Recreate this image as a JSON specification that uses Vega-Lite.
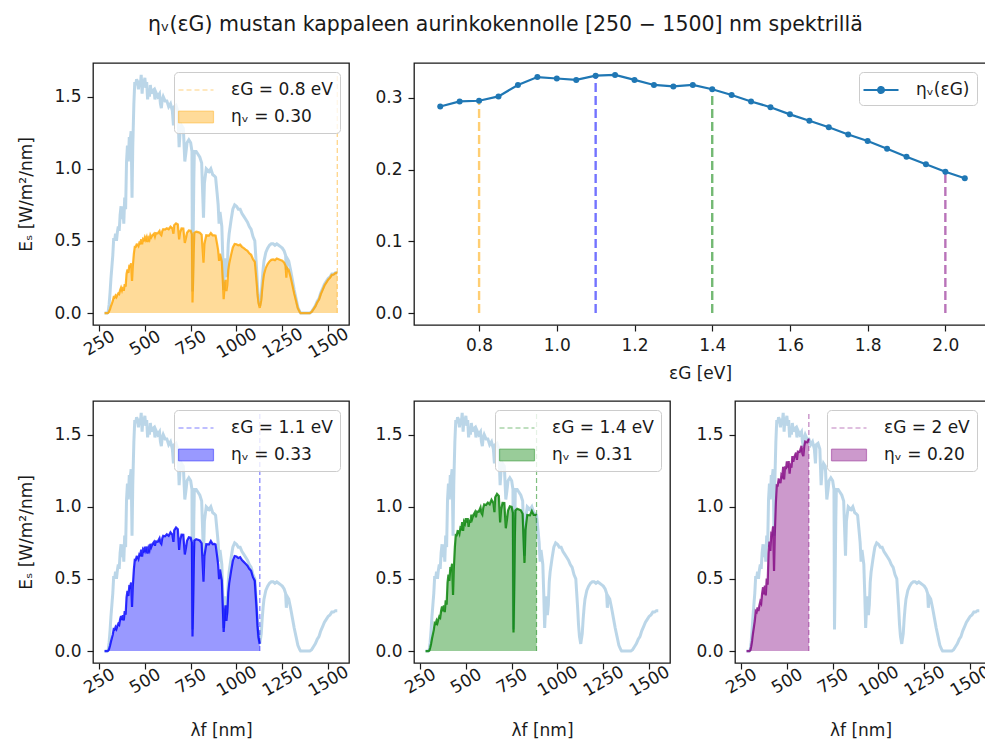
{
 "$schema": "https://vega.github.io/schema/vega-lite/v6.json",
 "padding": {"left": 17, "top": 14, "right": 0, "bottom": 0},
 "title": {"text": "ηᵥ(εG) mustan kappaleen aurinkokennolle [250 − 1500] nm spektrillä", "anchor": "middle", "frame": "bounds", "offset": 27, "fontSize": 20.5, "font": "DejaVu Sans", "fontWeight": "normal", "color": "#1a1a1a"},
 "resolve": {"scale": {"strokeDash": "independent", "color": "independent"}, "legend": {"strokeDash": "independent", "color": "independent"}},
 "datasets": {
  "spec": [
   {"l":280,"e":0,"a":0,"b":0,"c":0,"d":0},
   {"l":295,"e":0,"a":0,"b":0,"c":0,"d":0},
   {"l":300,"e":0.01,"a":0.002,"b":0.003,"c":0.003,"d":0.005},
   {"l":305,"e":0.06,"a":0.012,"b":0.016,"c":0.021,"d":0.03},
   {"l":310,"e":0.14,"a":0.028,"b":0.039,"c":0.049,"d":0.07},
   {"l":315,"e":0.24,"a":0.049,"b":0.067,"c":0.085,"d":0.122},
   {"l":320,"e":0.32,"a":0.066,"b":0.091,"c":0.116,"d":0.165},
   {"l":325,"e":0.4,"a":0.084,"b":0.115,"c":0.147,"d":0.21},
   {"l":330,"e":0.52,"a":0.111,"b":0.152,"c":0.194,"d":0.277},
   {"l":335,"e":0.5,"a":0.108,"b":0.149,"c":0.189,"d":0.27},
   {"l":340,"e":0.55,"a":0.121,"b":0.166,"c":0.211,"d":0.302},
   {"l":345,"e":0.5,"a":0.111,"b":0.153,"c":0.195,"d":0.278},
   {"l":350,"e":0.56,"a":0.126,"b":0.174,"c":0.221,"d":0.316},
   {"l":355,"e":0.6,"a":0.137,"b":0.189,"c":0.24,"d":0.344},
   {"l":360,"e":0.57,"a":0.132,"b":0.182,"c":0.232,"d":0.331},
   {"l":365,"e":0.68,"a":0.16,"b":0.22,"c":0.28,"d":0.4},
   {"l":370,"e":0.74,"a":0.177,"b":0.243,"c":0.309,"d":0.442},
   {"l":375,"e":0.65,"a":0.157,"b":0.216,"c":0.275,"d":0.393},
   {"l":380,"e":0.74,"a":0.181,"b":0.249,"c":0.317,"d":0.454},
   {"l":385,"e":0.62,"a":0.154,"b":0.212,"c":0.27,"d":0.385},
   {"l":390,"e":0.8,"a":0.201,"b":0.277,"c":0.352,"d":0.503},
   {"l":395,"e":0.72,"a":0.183,"b":0.252,"c":0.321,"d":0.459},
   {"l":400,"e":1.05,"a":0.271,"b":0.373,"c":0.474,"d":0.677},
   {"l":405,"e":1.16,"a":0.303,"b":0.417,"c":0.53,"d":0.758},
   {"l":410,"e":1.05,"a":0.278,"b":0.382,"c":0.486,"d":0.694},
   {"l":415,"e":1.22,"a":0.327,"b":0.449,"c":0.572,"d":0.817},
   {"l":420,"e":1.2,"a":0.325,"b":0.447,"c":0.569,"d":0.813},
   {"l":425,"e":1.26,"a":0.345,"b":0.475,"c":0.605,"d":0.864},
   {"l":430,"e":0.8,"a":0.222,"b":0.305,"c":0.388,"d":0.555},
   {"l":434,"e":1.15,"a":0.322,"b":0.443,"c":0.564,"d":0.805},
   {"l":440,"e":1.45,"a":0.412,"b":0.566,"c":0.72,"d":1.029},
   {"l":445,"e":1.6,"a":0.459,"b":0.632,"c":0.804,"d":1.148},
   {"l":450,"e":1.58,"a":0.459,"b":0.631,"c":0.803,"d":1.147},
   {"l":455,"e":1.62,"a":0.476,"b":0.654,"c":0.832,"d":1.189},
   {"l":460,"e":1.6,"a":0.475,"b":0.653,"c":0.831,"d":1.187},
   {"l":465,"e":1.55,"a":0.465,"b":0.639,"c":0.814,"d":1.163},
   {"l":470,"e":1.61,"a":0.488,"b":0.671,"c":0.854,"d":1.22},
   {"l":475,"e":1.58,"a":0.484,"b":0.666,"c":0.847,"d":1.21},
   {"l":480,"e":1.65,"a":0.511,"b":0.703,"c":0.894,"d":1.277},
   {"l":485,"e":1.52,"a":0.476,"b":0.654,"c":0.832,"d":1.189},
   {"l":490,"e":1.62,"a":0.512,"b":0.704,"c":0.896,"d":1.28},
   {"l":495,"e":1.58,"a":0.505,"b":0.694,"c":0.883,"d":1.261},
   {"l":500,"e":1.63,"a":0.526,"b":0.723,"c":0.92,"d":1.315},
   {"l":505,"e":1.56,"a":0.508,"b":0.699,"c":0.89,"d":1.271},
   {"l":510,"e":1.6,"a":0.526,"b":0.724,"c":0.921,"d":1.316},
   {"l":515,"e":1.48,"a":0.492,"b":0.676,"c":0.861,"d":1.229},
   {"l":520,"e":1.55,"a":0.52,"b":0.715,"c":0.91,"d":1.3},
   {"l":525,"e":1.5,"a":0.508,"b":0.699,"c":0.889,"d":1.27},
   {"l":530,"e":1.58,"a":0.54,"b":0.743,"c":0.945,"d":1.351},
   {"l":535,"e":1.52,"a":0.525,"b":0.721,"c":0.918,"d":1.312},
   {"l":540,"e":1.54,"a":0.537,"b":0.738,"c":0.939,"d":1.341},
   {"l":550,"e":1.55,"a":0.55,"b":0.756,"c":0.963,"d":1.375},
   {"l":555,"e":1.48,"a":0.53,"b":0.729,"c":0.927,"d":1.325},
   {"l":560,"e":1.53,"a":0.553,"b":0.76,"c":0.967,"d":1.382},
   {"l":570,"e":1.5,"a":0.552,"b":0.758,"c":0.965,"d":1.379},
   {"l":580,"e":1.52,"a":0.569,"b":0.782,"c":0.995,"d":1.422},
   {"l":585,"e":1.45,"a":0.547,"b":0.752,"c":0.958,"d":1.368},
   {"l":590,"e":1.42,"a":0.54,"b":0.743,"c":0.946,"d":1.351},
   {"l":595,"e":1.48,"a":0.568,"b":0.781,"c":0.994,"d":1.42},
   {"l":600,"e":1.5,"a":0.581,"b":0.798,"c":1.016,"d":1.452},
   {"l":610,"e":1.47,"a":0.579,"b":0.795,"c":1.012,"d":1.446},
   {"l":620,"e":1.47,"a":0.588,"b":0.809,"c":1.029,"d":1.47},
   {"l":630,"e":1.43,"a":0.581,"b":0.799,"c":1.017},
   {"l":640,"e":1.45,"a":0.599,"b":0.823,"c":1.048},
   {"l":650,"e":1.4,"a":0.587,"b":0.807,"c":1.027},
   {"l":656,"e":1.3,"a":0.55,"b":0.756,"c":0.963},
   {"l":660,"e":1.43,"a":0.609,"b":0.837,"c":1.066},
   {"l":670,"e":1.44,"a":0.622,"b":0.856,"c":1.089},
   {"l":680,"e":1.4,"a":0.614,"b":0.844,"c":1.075},
   {"l":687,"e":1.15,"a":0.51,"b":0.701,"c":0.892},
   {"l":692,"e":1.25,"a":0.558,"b":0.767,"c":0.977},
   {"l":700,"e":1.3,"a":0.587,"b":0.807,"c":1.027},
   {"l":710,"e":1.28,"a":0.586,"b":0.806,"c":1.026},
   {"l":718,"e":1.05,"a":0.486,"b":0.669,"c":0.851},
   {"l":725,"e":1.12,"a":0.524,"b":0.72,"c":0.917},
   {"l":730,"e":1.18,"a":0.556,"b":0.764,"c":0.973},
   {"l":740,"e":1.2,"a":0.573,"b":0.788,"c":1.003},
   {"l":750,"e":1.18,"a":0.571,"b":0.785,"c":0.999},
   {"l":757,"e":1.12,"a":0.547,"b":0.752,"c":0.957},
   {"l":760,"e":0.15,"a":0.074,"b":0.101,"c":0.129},
   {"l":763,"e":0.45,"a":0.222,"b":0.305,"c":0.388},
   {"l":767,"e":0.9,"a":0.445,"b":0.612,"c":0.779},
   {"l":770,"e":1.12,"a":0.556,"b":0.765,"c":0.974},
   {"l":780,"e":1.12,"a":0.564,"b":0.775,"c":0.986},
   {"l":790,"e":1.1,"a":0.561,"b":0.771,"c":0.981},
   {"l":800,"e":1.08,"a":0.557,"b":0.766,"c":0.975},
   {"l":810,"e":1.04,"a":0.543,"b":0.747,"c":0.951},
   {"l":815,"e":0.85,"a":0.447,"b":0.615,"c":0.782},
   {"l":820,"e":0.66,"a":0.349,"b":0.48,"c":0.611},
   {"l":825,"e":0.9,"a":0.479,"b":0.659,"c":0.838},
   {"l":835,"e":1.0,"a":0.539,"b":0.741,"c":0.943},
   {"l":850,"e":0.98,"a":0.537,"b":0.739,"c":0.941},
   {"l":860,"e":1.0,"a":0.555,"b":0.763,"c":0.971},
   {"l":870,"e":0.96,"a":0.539,"b":0.741,"c":0.943},
   {"l":880,"e":0.95,"a":0.539,"b":0.742,"c":0.944},
   {"l":886,"e":0.94,"a":0.537,"b":0.739,"c":0.94},
   {"l":895,"e":0.82,"a":0.473,"b":0.651},
   {"l":900,"e":0.75,"a":0.435,"b":0.599},
   {"l":905,"e":0.62,"a":0.362,"b":0.498},
   {"l":910,"e":0.7,"a":0.411,"b":0.565},
   {"l":920,"e":0.6,"a":0.356,"b":0.49},
   {"l":925,"e":0.4,"a":0.239,"b":0.328},
   {"l":930,"e":0.16,"a":0.096,"b":0.132},
   {"l":935,"e":0.3,"a":0.181,"b":0.249},
   {"l":940,"e":0.38,"a":0.23,"b":0.317},
   {"l":945,"e":0.25,"a":0.152,"b":0.21},
   {"l":950,"e":0.32,"a":0.196,"b":0.27},
   {"l":955,"e":0.48,"a":0.296,"b":0.407},
   {"l":960,"e":0.55,"a":0.341,"b":0.468},
   {"l":970,"e":0.64,"a":0.401,"b":0.551},
   {"l":980,"e":0.72,"a":0.455,"b":0.626},
   {"l":990,"e":0.75,"a":0.479,"b":0.659},
   {"l":1000,"e":0.74,"a":0.477,"b":0.656},
   {"l":1010,"e":0.72,"a":0.469,"b":0.645},
   {"l":1020,"e":0.72,"a":0.474,"b":0.651},
   {"l":1030,"e":0.69,"a":0.459,"b":0.63},
   {"l":1040,"e":0.67,"a":0.45,"b":0.618},
   {"l":1050,"e":0.65,"a":0.44,"b":0.605},
   {"l":1060,"e":0.63,"a":0.431,"b":0.592},
   {"l":1070,"e":0.6,"a":0.414,"b":0.57},
   {"l":1080,"e":0.58,"a":0.404,"b":0.556},
   {"l":1090,"e":0.53,"a":0.373,"b":0.512},
   {"l":1100,"e":0.5,"a":0.355,"b":0.488},
   {"l":1105,"e":0.4,"a":0.285,"b":0.392},
   {"l":1110,"e":0.3,"a":0.215,"b":0.295},
   {"l":1115,"e":0.18,"a":0.129,"b":0.178},
   {"l":1120,"e":0.1,"a":0.072,"b":0.099},
   {"l":1127,"e":0.05,"a":0.036,"b":0.05},
   {"l":1135,"e":0.12,"a":0.088},
   {"l":1140,"e":0.22,"a":0.162},
   {"l":1145,"e":0.3,"a":0.222},
   {"l":1150,"e":0.36,"a":0.267},
   {"l":1160,"e":0.42,"a":0.314},
   {"l":1170,"e":0.45,"a":0.34},
   {"l":1180,"e":0.47,"a":0.358},
   {"l":1190,"e":0.48,"a":0.369},
   {"l":1200,"e":0.48,"a":0.372},
   {"l":1210,"e":0.47,"a":0.367},
   {"l":1220,"e":0.48,"a":0.378},
   {"l":1230,"e":0.47,"a":0.373},
   {"l":1240,"e":0.46,"a":0.368},
   {"l":1250,"e":0.45,"a":0.363},
   {"l":1260,"e":0.43,"a":0.35},
   {"l":1268,"e":0.4,"a":0.327},
   {"l":1272,"e":0.3,"a":0.246},
   {"l":1276,"e":0.38,"a":0.313},
   {"l":1285,"e":0.36,"a":0.298},
   {"l":1295,"e":0.3,"a":0.251},
   {"l":1305,"e":0.23,"a":0.194},
   {"l":1315,"e":0.16,"a":0.136},
   {"l":1325,"e":0.1,"a":0.085},
   {"l":1335,"e":0.04,"a":0.034},
   {"l":1345,"e":0.01,"a":0.009},
   {"l":1350,"e":0,"a":0},
   {"l":1380,"e":0,"a":0},
   {"l":1400,"e":0,"a":0},
   {"l":1410,"e":0.01,"a":0.009},
   {"l":1420,"e":0.03,"a":0.027},
   {"l":1430,"e":0.05,"a":0.046},
   {"l":1440,"e":0.08,"a":0.074},
   {"l":1450,"e":0.1,"a":0.094},
   {"l":1460,"e":0.14,"a":0.132},
   {"l":1470,"e":0.17,"a":0.161},
   {"l":1480,"e":0.2,"a":0.191},
   {"l":1490,"e":0.22,"a":0.211},
   {"l":1500,"e":0.24,"a":0.232},
   {"l":1510,"e":0.25,"a":0.244},
   {"l":1520,"e":0.27,"a":0.265},
   {"l":1530,"e":0.27,"a":0.267},
   {"l":1540,"e":0.28,"a":0.278},
   {"l":1550,"e":0.28,"a":0.28}
  ],
  "eta": [
   {"eg":0.70,"eta":0.288},{"eg":0.75,"eta":0.295},{"eg":0.80,"eta":0.296},{"eg":0.85,"eta":0.302},
   {"eg":0.90,"eta":0.318},{"eg":0.95,"eta":0.329},{"eg":1.00,"eta":0.327},{"eg":1.05,"eta":0.325},
   {"eg":1.10,"eta":0.331},{"eg":1.15,"eta":0.332},{"eg":1.20,"eta":0.325},{"eg":1.25,"eta":0.318},
   {"eg":1.30,"eta":0.316},{"eg":1.35,"eta":0.318},{"eg":1.40,"eta":0.312},{"eg":1.45,"eta":0.304},
   {"eg":1.50,"eta":0.295},{"eg":1.55,"eta":0.287},{"eg":1.60,"eta":0.277},{"eg":1.65,"eta":0.268},
   {"eg":1.70,"eta":0.259},{"eg":1.75,"eta":0.249},{"eg":1.80,"eta":0.240},{"eg":1.85,"eta":0.229},
   {"eg":1.90,"eta":0.218},{"eg":1.95,"eta":0.2075},{"eg":2.00,"eta":0.197},{"eg":2.05,"eta":0.188}
  ]
 },
 "spacing": 18,
 "vconcat": [
  {
   "resolve": {"scale": {"strokeDash": "independent", "color": "independent"}, "legend": {"strokeDash": "independent", "color": "independent"}},
   "hconcat": [
    {
     "width": 256, "height": 262,
     "layer": [
      {"data": {"name": "spec"}, "mark": {"type": "line", "color": "#1f77b4", "opacity": 0.3, "strokeWidth": 3},
       "encoding": {
        "x": {"field": "l", "type": "quantitative", "scale": {"domain": [217, 1614], "nice": false, "zero": false},
              "axis": {"values": [250, 500, 750, 1000, 1250, 1500], "format": "d", "title": null, "labelAngle": -30, "labelAlign": "center", "labelBaseline": "middle", "labelPadding": 12}},
        "y": {"field": "e", "type": "quantitative", "scale": {"domain": [-0.0825, 1.7325], "nice": false, "zero": false},
              "axis": {"values": [0, 0.5, 1, 1.5], "format": ".1f", "title": "Eₛ [W/m²/nm]", "titlePadding": 18}}}},
      {"data": {"name": "spec"}, "mark": {"type": "area", "color": "orange", "opacity": 0.4},
       "encoding": {"x": {"field": "l", "type": "quantitative"}, "y": {"field": "a", "type": "quantitative"}}},
      {"data": {"name": "spec"}, "mark": {"type": "line", "color": "orange", "opacity": 0.8, "strokeWidth": 2.2},
       "encoding": {"x": {"field": "l", "type": "quantitative"}, "y": {"field": "a", "type": "quantitative"}}},
      {"data": {"values": [{"lg": 1550, "bot": 0, "top": 1.65, "s": "εG = 0.8 eV"}]}, "mark": {"type": "rule", "color": "orange", "opacity": 0.5, "strokeWidth": 1.2},
       "encoding": {"x": {"field": "lg", "type": "quantitative"}, "y": {"field": "bot", "type": "quantitative"}, "y2": {"field": "top"},
        "strokeDash": {"field": "s", "type": "nominal", "scale": {"domain": ["εG = 0.8 eV", "ηᵥ = 0.30"], "range": [[5, 3], [1, 0]]},
         "legend": {"orient": "top-right", "title": null, "offset": 9, "padding": 7, "fillColor": "rgba(255,255,255,0.8)", "strokeColor": "#cccccc", "cornerRadius": 4, "labelOffset": 24, "symbolOffset": 4, "rowPadding": 8, "symbolSize": 400, "symbolType": "stroke",
          "encoding": {"symbols": {"shape": {"value": {"expr": "datum.index === 0 ? 'M-1.75,0H1.75' : 'M-1.75,-0.6H1.75V0.6H-1.75Z'"}}, "fill": {"value": {"expr": "datum.index === 0 ? 'transparent' : 'rgba(255,165,0,0.4)'"}}, "stroke": {"value": {"expr": "datum.index === 0 ? 'rgba(255,165,0,0.5)' : 'rgba(255,165,0,0.4)'"}}, "strokeWidth": {"value": 1.2}, "opacity": {"value": 1}}}}}}}
     ]
    },
    {
     "width": 572, "height": 262,
     "layer": [
      {"data": {"values": [{"eg": 0.8, "z": 0, "eta": 0.296, "k": "o"}, {"eg": 1.1, "z": 0, "eta": 0.331, "k": "b"}, {"eg": 1.4, "z": 0, "eta": 0.312, "k": "g"}, {"eg": 2.0, "z": 0, "eta": 0.197, "k": "p"}]},
       "mark": {"type": "rule", "strokeWidth": 2.4, "opacity": 0.55, "strokeDash": [9, 4]},
       "encoding": {
        "x": {"field": "eg", "type": "quantitative", "scale": {"domain": [0.6325, 2.1046], "nice": false, "zero": false},
              "axis": {"values": [0.8, 1.0, 1.2, 1.4, 1.6, 1.8, 2.0], "format": ".1f", "title": "εG [eV]", "titlePadding": 12}},
        "y": {"field": "z", "type": "quantitative", "scale": {"domain": [-0.0166, 0.3486], "nice": false, "zero": false},
              "axis": {"values": [0, 0.1, 0.2, 0.3], "format": ".1f", "title": null}},
        "y2": {"field": "eta"},
        "color": {"field": "k", "type": "nominal", "scale": {"domain": ["o", "b", "g", "p"], "range": ["orange", "blue", "green", "purple"]}, "legend": null}}},
      {"data": {"name": "eta"}, "mark": {"type": "line", "color": "#1f77b4", "strokeWidth": 2.2, "point": {"filled": true, "size": 36, "color": "#1f77b4"}},
       "encoding": {
        "x": {"field": "eg", "type": "quantitative"},
        "y": {"field": "eta", "type": "quantitative"}}},
      {"data": {"values": [{"eg": 2.0, "eta": 0.197, "s": "ηᵥ(εG)"}]}, "mark": {"type": "point", "opacity": 0},
       "encoding": {
        "x": {"field": "eg", "type": "quantitative"},
        "y": {"field": "eta", "type": "quantitative"},
        "strokeDash": {"field": "s", "type": "nominal", "scale": {"domain": ["ηᵥ(εG)"], "range": [[1, 0]]},
         "legend": {"orient": "top-right", "title": null, "offset": 9, "padding": 7, "fillColor": "rgba(255,255,255,0.8)", "strokeColor": "#cccccc", "cornerRadius": 4, "labelOffset": 24, "symbolOffset": 4, "symbolSize": 400, "symbolType": "stroke",
          "encoding": {"symbols": {"shape": {"value": "M-1.75,0H1.75M-0.3,0A0.3,0.3,0,1,1,0.3,0A0.3,0.3,0,1,1,-0.3,0Z"}, "fill": {"value": "#1f77b4"}, "stroke": {"value": "#1f77b4"}, "strokeWidth": {"value": 2}, "opacity": {"value": 1}}}}}}}
     ]
    }
   ],
   "spacing": 65, "bounds": "flush"
  },
  {
   "resolve": {"scale": {"strokeDash": "independent", "color": "independent"}, "legend": {"strokeDash": "independent", "color": "independent"}},
   "hconcat": [
    {
     "width": 256, "height": 262,
     "layer": [
      {"data": {"name": "spec"}, "mark": {"type": "line", "color": "#1f77b4", "opacity": 0.3, "strokeWidth": 3},
       "encoding": {
        "x": {"field": "l", "type": "quantitative", "scale": {"domain": [217, 1614], "nice": false, "zero": false},
              "axis": {"values": [250, 500, 750, 1000, 1250, 1500], "format": "d", "title": "λf [nm]", "titlePadding": 24, "labelAngle": -30, "labelAlign": "center", "labelBaseline": "middle", "labelPadding": 12}},
        "y": {"field": "e", "type": "quantitative", "scale": {"domain": [-0.0825, 1.7325], "nice": false, "zero": false},
              "axis": {"values": [0, 0.5, 1, 1.5], "format": ".1f", "title": "Eₛ [W/m²/nm]", "titlePadding": 18}}}},
      {"data": {"name": "spec"}, "mark": {"type": "area", "color": "blue", "opacity": 0.4},
       "encoding": {"x": {"field": "l", "type": "quantitative"}, "y": {"field": "b", "type": "quantitative"}}},
      {"data": {"name": "spec"}, "mark": {"type": "line", "color": "blue", "opacity": 0.8, "strokeWidth": 2.2},
       "encoding": {"x": {"field": "l", "type": "quantitative"}, "y": {"field": "b", "type": "quantitative"}}},
      {"data": {"values": [{"lg": 1127.3, "bot": 0, "top": 1.65, "s": "εG = 1.1 eV"}]}, "mark": {"type": "rule", "color": "blue", "opacity": 0.5, "strokeWidth": 1.2},
       "encoding": {"x": {"field": "lg", "type": "quantitative"}, "y": {"field": "bot", "type": "quantitative"}, "y2": {"field": "top"},
        "strokeDash": {"field": "s", "type": "nominal", "scale": {"domain": ["εG = 1.1 eV", "ηᵥ = 0.33"], "range": [[5, 3], [1, 0]]},
         "legend": {"orient": "top-right", "title": null, "offset": 9, "padding": 7, "fillColor": "rgba(255,255,255,0.8)", "strokeColor": "#cccccc", "cornerRadius": 4, "labelOffset": 24, "symbolOffset": 4, "rowPadding": 8, "symbolSize": 400, "symbolType": "stroke",
          "encoding": {"symbols": {"shape": {"value": {"expr": "datum.index === 0 ? 'M-1.75,0H1.75' : 'M-1.75,-0.6H1.75V0.6H-1.75Z'"}}, "fill": {"value": {"expr": "datum.index === 0 ? 'transparent' : 'rgba(0,0,255,0.4)'"}}, "stroke": {"value": {"expr": "datum.index === 0 ? 'rgba(0,0,255,0.5)' : 'rgba(0,0,255,0.4)'"}}, "strokeWidth": {"value": 1.2}, "opacity": {"value": 1}}}}}}}
     ]
    },
    {
     "width": 256, "height": 262,
     "layer": [
      {"data": {"name": "spec"}, "mark": {"type": "line", "color": "#1f77b4", "opacity": 0.3, "strokeWidth": 3},
       "encoding": {
        "x": {"field": "l", "type": "quantitative", "scale": {"domain": [217, 1614], "nice": false, "zero": false},
              "axis": {"values": [250, 500, 750, 1000, 1250, 1500], "format": "d", "title": "λf [nm]", "titlePadding": 24, "labelAngle": -30, "labelAlign": "center", "labelBaseline": "middle", "labelPadding": 12}},
        "y": {"field": "e", "type": "quantitative", "scale": {"domain": [-0.0825, 1.7325], "nice": false, "zero": false},
              "axis": {"values": [0, 0.5, 1, 1.5], "format": ".1f", "title": null}}}},
      {"data": {"name": "spec"}, "mark": {"type": "area", "color": "green", "opacity": 0.4},
       "encoding": {"x": {"field": "l", "type": "quantitative"}, "y": {"field": "c", "type": "quantitative"}}},
      {"data": {"name": "spec"}, "mark": {"type": "line", "color": "green", "opacity": 0.8, "strokeWidth": 2.2},
       "encoding": {"x": {"field": "l", "type": "quantitative"}, "y": {"field": "c", "type": "quantitative"}}},
      {"data": {"values": [{"lg": 885.7, "bot": 0, "top": 1.65, "s": "εG = 1.4 eV"}]}, "mark": {"type": "rule", "color": "green", "opacity": 0.5, "strokeWidth": 1.2},
       "encoding": {"x": {"field": "lg", "type": "quantitative"}, "y": {"field": "bot", "type": "quantitative"}, "y2": {"field": "top"},
        "strokeDash": {"field": "s", "type": "nominal", "scale": {"domain": ["εG = 1.4 eV", "ηᵥ = 0.31"], "range": [[5, 3], [1, 0]]},
         "legend": {"orient": "top-right", "title": null, "offset": 9, "padding": 7, "fillColor": "rgba(255,255,255,0.8)", "strokeColor": "#cccccc", "cornerRadius": 4, "labelOffset": 24, "symbolOffset": 4, "rowPadding": 8, "symbolSize": 400, "symbolType": "stroke",
          "encoding": {"symbols": {"shape": {"value": {"expr": "datum.index === 0 ? 'M-1.75,0H1.75' : 'M-1.75,-0.6H1.75V0.6H-1.75Z'"}}, "fill": {"value": {"expr": "datum.index === 0 ? 'transparent' : 'rgba(0,128,0,0.4)'"}}, "stroke": {"value": {"expr": "datum.index === 0 ? 'rgba(0,128,0,0.5)' : 'rgba(0,128,0,0.4)'"}}, "strokeWidth": {"value": 1.2}, "opacity": {"value": 1}}}}}}}
     ]
    },
    {
     "width": 251, "height": 262,
     "layer": [
      {"data": {"name": "spec"}, "mark": {"type": "line", "color": "#1f77b4", "opacity": 0.3, "strokeWidth": 3},
       "encoding": {
        "x": {"field": "l", "type": "quantitative", "scale": {"domain": [217, 1586.7], "nice": false, "zero": false},
              "axis": {"values": [250, 500, 750, 1000, 1250, 1500], "format": "d", "title": "λf [nm]", "titlePadding": 24, "labelAngle": -30, "labelAlign": "center", "labelBaseline": "middle", "labelPadding": 12}},
        "y": {"field": "e", "type": "quantitative", "scale": {"domain": [-0.0825, 1.7325], "nice": false, "zero": false},
              "axis": {"values": [0, 0.5, 1, 1.5], "format": ".1f", "title": null}}}},
      {"data": {"name": "spec"}, "mark": {"type": "area", "color": "purple", "opacity": 0.4},
       "encoding": {"x": {"field": "l", "type": "quantitative"}, "y": {"field": "d", "type": "quantitative"}}},
      {"data": {"name": "spec"}, "mark": {"type": "line", "color": "purple", "opacity": 0.8, "strokeWidth": 2.2},
       "encoding": {"x": {"field": "l", "type": "quantitative"}, "y": {"field": "d", "type": "quantitative"}}},
      {"data": {"values": [{"lg": 620, "bot": 0, "top": 1.65, "s": "εG = 2 eV"}]}, "mark": {"type": "rule", "color": "purple", "opacity": 0.5, "strokeWidth": 1.2},
       "encoding": {"x": {"field": "lg", "type": "quantitative"}, "y": {"field": "bot", "type": "quantitative"}, "y2": {"field": "top"},
        "strokeDash": {"field": "s", "type": "nominal", "scale": {"domain": ["εG = 2 eV", "ηᵥ = 0.20"], "range": [[5, 3], [1, 0]]},
         "legend": {"orient": "top-right", "title": null, "offset": 9, "padding": 7, "fillColor": "rgba(255,255,255,0.8)", "strokeColor": "#cccccc", "cornerRadius": 4, "labelOffset": 24, "symbolOffset": 4, "rowPadding": 8, "symbolSize": 400, "symbolType": "stroke",
          "encoding": {"symbols": {"shape": {"value": {"expr": "datum.index === 0 ? 'M-1.75,0H1.75' : 'M-1.75,-0.6H1.75V0.6H-1.75Z'"}}, "fill": {"value": {"expr": "datum.index === 0 ? 'transparent' : 'rgba(128,0,128,0.4)'"}}, "stroke": {"value": {"expr": "datum.index === 0 ? 'rgba(128,0,128,0.5)' : 'rgba(128,0,128,0.4)'"}}, "strokeWidth": {"value": 1.2}, "opacity": {"value": 1}}}}}}}
     ]
    }
   ],
   "spacing": 65, "bounds": "flush"
  }
 ],
 "config": {
  "font": "DejaVu Sans",
  "view": {"stroke": "#1a1a1a", "strokeWidth": 1.3},
  "axis": {"domain": false, "grid": false, "ticks": true, "tickColor": "#1a1a1a", "tickSize": 6, "tickWidth": 1.2, "labelFont": "DejaVu Sans", "labelFontSize": 17, "labelColor": "#1a1a1a", "labelPadding": 6, "labelFlush": false, "labelOverlap": false, "titleFont": "DejaVu Sans", "titleFontSize": 17, "titleFontWeight": "normal", "titleColor": "#1a1a1a"},
  "legend": {"labelFont": "DejaVu Sans", "labelFontSize": 17, "labelColor": "#1a1a1a"}
 }
}
